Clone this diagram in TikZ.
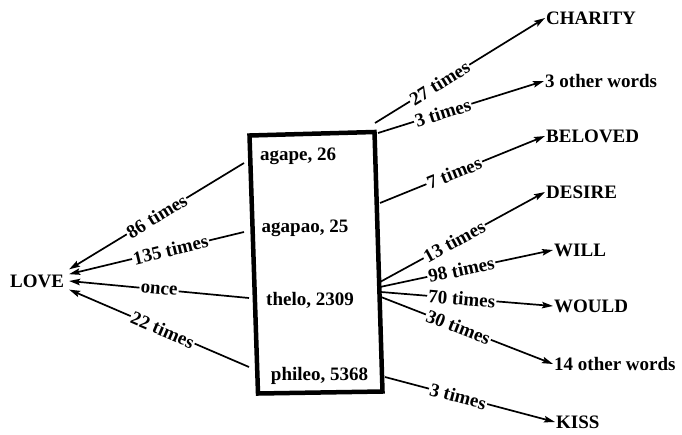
\documentclass[tikz,border=0pt]{standalone}
\usepackage{fontspec}
\setmainfont{Liberation Serif}
\usetikzlibrary{arrows.meta}
\tikzset{
	word/.style={font=\bfseries\fontsize{19}{21}\selectfont, inner sep=1pt},
	count/.style={font=\bfseries\fontsize{19}{21}\selectfont, sloped, fill=white, inner sep=1.2pt},
	link/.style={line width=1.7pt, -{Stealth[length=11pt,width=6.5pt,inset=2pt]}},
}

\begin{document}
\begin{tikzpicture}[x=1pt,y=-1pt]
		%%%%% START %%%%%
		\useasboundingbox (0,0) rectangle (682,434);
		
		% the box of greek words
		\draw[line width=4.5pt] (249.5,135.5) -- (374.5,132) -- (382.5,391.5) -- (258,393.5) -- cycle;
		
		\node[word, anchor=base] (agape) at (298,160) {agape, 26};
		\node[word, anchor=base] (agapao) at (305,232) {agapao, 25};
		\node[word, anchor=base] (thelo) at (310,305) {thelo, 2309};
		\node[word, anchor=base] (phileo) at (319.5,380) {phileo, 5368};
		
		\node[word, inner sep=5pt] (love) at (37,281) {LOVE};
		
		\node[word, anchor=west] (charity) at (545,18) {CHARITY};
		\node[word, anchor=west] (other3) at (544,81) {3 other words};
		\node[word, anchor=west] (beloved) at (545,136) {BELOVED};
		\node[word, anchor=west] (desire) at (545,192) {DESIRE};
		\node[word, anchor=west] (will) at (553,250) {WILL};
		\node[word, anchor=west] (would) at (553,306) {WOULD};
		\node[word, anchor=west] (other14) at (553,364) {14 other words};
		\node[word, anchor=west] (kiss) at (555,422) {KISS};
		
		% ends at the box
		\coordinate (l86) at (244,163);
		\coordinate (l135) at (244,232);
		\coordinate (lonce) at (249,298);
		\coordinate (l22) at (249,367);
		\coordinate (r27) at (375,123);
		\coordinate (r3) at (378,133);
		\coordinate (r7) at (380,203);
		\coordinate (r13) at (380,282);
		\coordinate (r98) at (380,287);
		\coordinate (r70) at (381,292);
		\coordinate (r30) at (381,297);
		\coordinate (r3b) at (385,377);
		
		\draw[link] (l86) -- node[count, pos=0.5] {86 times} (love.north east);
		\draw[link] (l135) -- node[count, pos=0.42] {135 times} (love.12);
		\draw[link] (lonce) -- node[count, pos=0.5] {once} (love.east);
		\draw[link] (l22) -- node[count, pos=0.48] {22 times} (love.-15);
		
		\draw[link] (r27) -- node[count, pos=0.38] {27 times} (charity.west);
		\draw[link] (r3) -- node[count, pos=0.39] {3 times} (other3.west);
		\draw[link] (r7) -- node[count, pos=0.45] {7 times} (beloved.west);
		\draw[link] (r13) -- node[count, pos=0.45] {13 times} (desire.west);
		\draw[link] (r98) -- node[count, pos=0.47] {98 times} (will.west);
		\draw[link] (r70) -- node[count, pos=0.47] {70 times} (would.west);
		\draw[link] (r30) -- node[count, pos=0.45] {30 times} (other14.west);
		\draw[link] (r3b) -- node[count, pos=0.43] {3 times} (kiss.west);
		
		%%%%% END %%%%%
\end{tikzpicture}
\end{document}
